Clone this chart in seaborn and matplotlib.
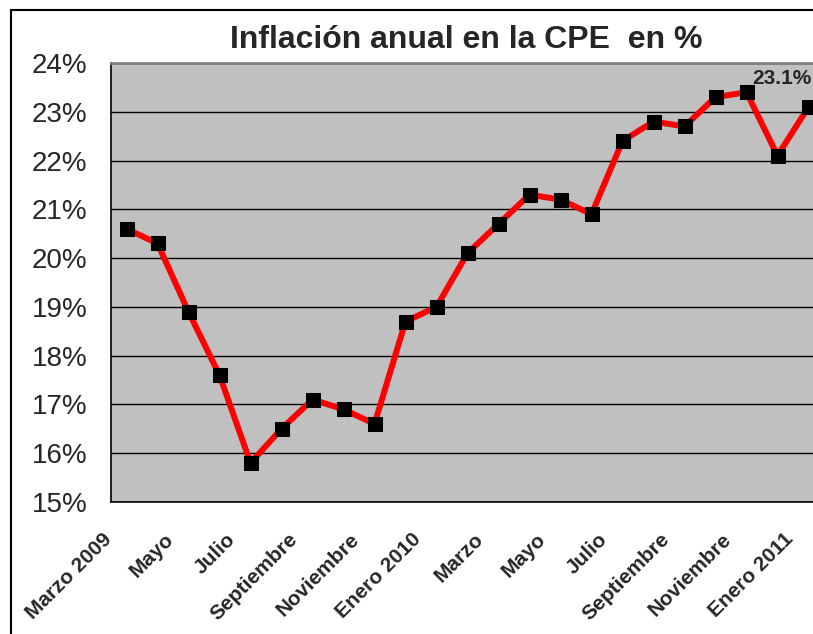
import numpy as np
import pandas as pd
import matplotlib
matplotlib.use("Agg")
import matplotlib.pyplot as plt
import seaborn as sns
from matplotlib.patches import Rectangle
from matplotlib.ticker import FixedLocator, FuncFormatter

# Datos: inflacion anual CPE (%), marzo 2009 - enero 2011
meses = ["Marzo 2009", "Abril", "Mayo", "Junio", "Julio", "Agosto", "Septiembre",
         "Octubre", "Noviembre", "Diciembre", "Enero 2010", "Febrero", "Marzo",
         "Abril", "Mayo", "Junio", "Julio", "Agosto", "Septiembre", "Octubre",
         "Noviembre", "Diciembre", "Enero 2011"]
inflacion = [20.6, 20.3, 18.9, 17.6, 15.8, 16.5, 17.1, 16.9, 16.6, 18.7, 19.0,
             20.1, 20.7, 21.3, 21.2, 20.9, 22.4, 22.8, 22.7, 23.3, 23.4, 22.1, 23.1]
y_ticks = list(range(15, 25))
etiqueta_final = "23.1%"

df = pd.DataFrame({"idx": np.arange(len(meses)), "mes": meses, "valor": inflacion})

sns.set_style("white")
plt.rcParams['font.family'] = ['Liberation Sans', 'DejaVu Sans']

fig = plt.figure(figsize=(8.13, 6.34), dpi=100)
ax = fig.add_axes([111/813, 1 - 502/634, 713/813, 439/634])
ax.set_facecolor("#C0C0C0")

# marco exterior del grafico (cortado a la derecha)
fig.patches.append(Rectangle((11/813, -0.1), 1.2, 1 - 10/634 + 0.1,
                             transform=fig.transFigure, fill=False,
                             edgecolor="black", linewidth=1.5, zorder=0))

for v in y_ticks:
    ax.axhline(v, color="black", linewidth=1, zorder=1)

sns.lineplot(data=df, x="idx", y="valor", ax=ax, color="red", linewidth=4.3,
             marker="s", markersize=10, markerfacecolor="black",
             markeredgecolor="black", zorder=3)

ax.set_xlim(-0.5, len(meses) - 0.5)
ax.set_ylim(15, 24)
ax.set_xlabel("")
ax.set_ylabel("")

ax.yaxis.set_major_locator(FixedLocator(y_ticks))
ax.yaxis.set_major_formatter(FuncFormatter(lambda v, p: f"{v:.0f}%"))
ax.tick_params(axis="y", direction="out", length=8, width=1, color="black",
               labelsize=20, pad=9)

ax.xaxis.set_major_locator(FixedLocator(np.arange(len(meses)) - 0.5))
ax.tick_params(axis="x", direction="out", length=6, width=1, color="black",
               labelbottom=False)

for i in range(0, len(meses), 2):
    ax.text(i - 0.8, -0.063, meses[i], transform=ax.get_xaxis_transform(),
            rotation=45, ha="right", va="top", rotation_mode="anchor",
            fontsize=15, fontweight="bold")

for s in ["left", "bottom"]:
    ax.spines[s].set_color("black")
    ax.spines[s].set_linewidth(1.2)
ax.spines["top"].set_color("#808080")
ax.spines["top"].set_linewidth(2)
ax.spines["right"].set_visible(False)

ax.annotate(etiqueta_final, xy=(len(meses) - 1, inflacion[-1]), xytext=(-56, 28),
            textcoords="offset pixels", ha="left", va="center",
            fontsize=15, fontweight="bold", annotation_clip=False)

fig.text(466/813, 1 - 40/634, "Inflación anual en la CPE  en %", ha="center",
         va="center", fontsize=23, fontweight="bold")

fig.savefig("out.png", dpi=100)
